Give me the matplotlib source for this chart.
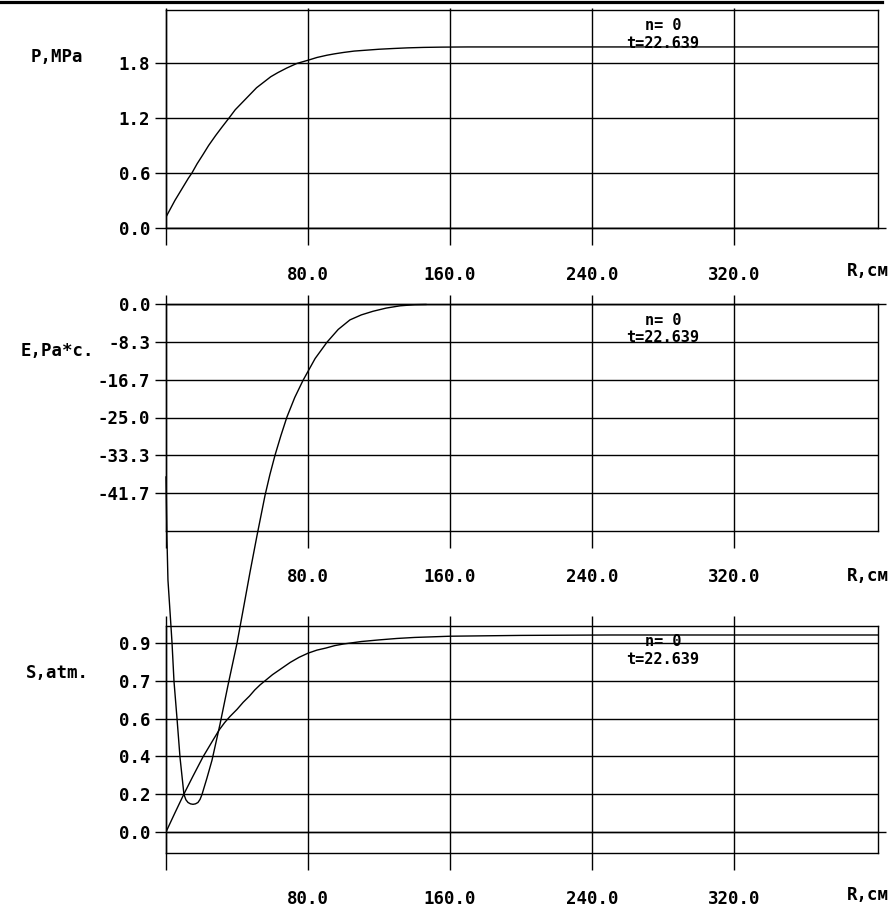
import matplotlib.pyplot as plt
from matplotlib.lines import Line2D

W, H = 891, 910

# радиус, общие подписи
r_ticks = [80, 160, 240, 320]
r_tick_labels = ['80.0', '160.0', '240.0', '320.0']
r_max = 401

# давление P
r_p = [0, 2.5, 5, 7.5, 10, 12.5, 14.6, 17.5, 20.8, 24, 28, 31.5, 35.5, 39, 43,
       47, 51, 55, 59, 63, 68, 73.7, 80, 85, 90.7, 95, 100, 106, 113, 120, 128,
       136, 145, 155, 170, 200, 401]
p_vals = [0.12, 0.21, 0.30, 0.38, 0.46, 0.54, 0.60, 0.70, 0.80, 0.90, 1.01,
          1.10, 1.20, 1.29, 1.37, 1.45, 1.53, 1.59, 1.65, 1.695, 1.745, 1.795,
          1.83, 1.86, 1.885, 1.90, 1.915, 1.93, 1.94, 1.95, 1.958, 1.965, 1.97,
          1.973, 1.975, 1.975, 1.975]
p_ticks = [0.0, 0.6, 1.2, 1.8]
p_tick_labels = ['0.0', '0.6', '1.2', '1.8']

# E
r_e = [0, 0.56, 1.1, 2.8, 3.4, 4.5, 6.2, 7.9, 10.1, 11.2, 12.4, 13.8, 15.2,
       16.6, 18.0, 19.2, 20.3, 23.0, 25.9, 30.4, 34.9, 40.0, 43.9, 47.3, 51.3,
       55.8, 58.5, 61.4, 64.7, 68.1, 72.5, 77.2, 84.0, 90.7, 97.0, 103.6, 110.0,
       116.6, 124.0, 131.8, 140.0, 146.4]
e_vals = [-38.1, -52.0, -60.8, -71.0, -74.7, -83.1, -91.3, -99.9, -108.0, -109.2,
          -109.8, -110.1, -110.2, -110.1, -109.8, -109.1, -108.0, -104.5, -100.5,
          -92.6, -84.0, -74.7, -66.4, -59.1, -50.9, -42.1, -37.6, -33.3, -29.0,
          -24.9, -20.6, -16.8, -12.0, -8.4, -5.6, -3.5, -2.4, -1.6, -0.9, -0.4,
          -0.15, -0.1]
e_ticks = [0, -8.333, -16.667, -25.0, -33.333, -41.667]
e_tick_labels = ['0.0', '-8.3', '-16.7', '-25.0', '-33.3', '-41.7']

# S
r_s = [0, 5, 10.1, 15, 20.8, 26.5, 30, 33, 36, 40, 43.5, 47, 50, 53, 56.5, 60,
       65, 70, 75, 80, 85, 90, 95, 100, 110, 120, 130, 140, 150, 160, 180, 200,
       250, 401]
s_vals = [0, 0.093, 0.186, 0.27, 0.367, 0.45, 0.50, 0.535, 0.565, 0.60, 0.635,
          0.665, 0.695, 0.72, 0.745, 0.77, 0.80, 0.83, 0.855, 0.875, 0.89, 0.90,
          0.912, 0.92, 0.932, 0.94, 0.947, 0.952, 0.955, 0.958, 0.96, 0.962,
          0.964, 0.964]
s_ticks = [0, 0.185, 0.37, 0.555, 0.74, 0.925]
s_tick_labels = ['0.0', '0.2', '0.4', '0.6', '0.7', '0.9']

n_step = 0
t_val = 22.639

plt.rcParams['font.family'] = ['DejaVu Sans Mono', 'DejaVu Sans']
plt.rcParams['font.weight'] = 'bold'
plt.rcParams['font.size'] = 12.5

fig = plt.figure(figsize=(W / 100, H / 100), dpi=100)

# толстая линия сверху
fig.add_artist(Line2D([0, 882 / W], [1 - 1.5 / H, 1 - 1.5 / H], color='black', lw=2.3))


def px2y(py, top, bottom, ylim):
    return ylim[0] + (bottom - py) / (bottom - top) * (ylim[1] - ylim[0])


def make_panel(top, bottom, ylim, ticks, labels, vtop, vbot, ylabel, ylabel_y,
               xlab_y, n_y, t_y):
    ax = fig.add_axes([166 / W, 1 - bottom / H, 712 / W, (bottom - top) / H])
    ax.set_facecolor('none')
    ax.set_xlim(0, r_max)
    ax.set_ylim(*ylim)
    for s in ax.spines.values():
        s.set_linewidth(1.0)
    ax.set_yticks(ticks, labels)
    ax.tick_params(axis='y', length=8, width=1.0, pad=3.5, direction='out')
    ax.set_xticks(r_ticks, r_tick_labels)
    ax.tick_params(axis='x', length=0, pad=27)
    ax.grid(True, axis='y', color='black', lw=1.0)
    # вертикальные линии выходят за рамку
    y0 = px2y(vbot, top, bottom, ylim)
    y1 = px2y(vtop, top, bottom, ylim)
    ax.vlines([0] + r_ticks, y0, y1, color='black', lw=1.0, clip_on=False)
    ax.hlines(0, 0, r_max + 8 / 1.7756, color='black', lw=1.0, clip_on=False)

    fig.text(57 / W, 1 - ylabel_y / H, ylabel, ha='center', va='center')
    fig.text(847 / W, 1 - xlab_y / H, 'R,см', ha='left', va='center')
    fig.text(663 / W, 1 - n_y / H, 'n= %d' % n_step, ha='center', va='center',
             fontsize=11)
    fig.text(663 / W, 1 - t_y / H, 't=%.3f' % t_val, ha='center', va='center',
             fontsize=11)
    return ax


ax1 = make_panel(10, 228, (0, 2.378), p_ticks, p_tick_labels, 8, 245,
                 'P,MPa', 57, 271, 26, 44)
ax1.plot(r_p, p_vals, color='black', lw=1.0)

ax2 = make_panel(304, 531, (-50, 0), e_ticks, e_tick_labels, 295, 548,
                 'E,Pa*c.', 351, 576, 320, 338)
ax2.plot(r_e, e_vals, color='black', lw=1.0, clip_on=False)

ax3 = make_panel(626, 853, (-0.1028, 1.008), s_ticks, s_tick_labels, 616, 870,
                 'S,atm.', 673, 895, 642, 660)
ax3.plot(r_s, s_vals, color='black', lw=1.0)

fig.savefig('out.png', dpi=100)
